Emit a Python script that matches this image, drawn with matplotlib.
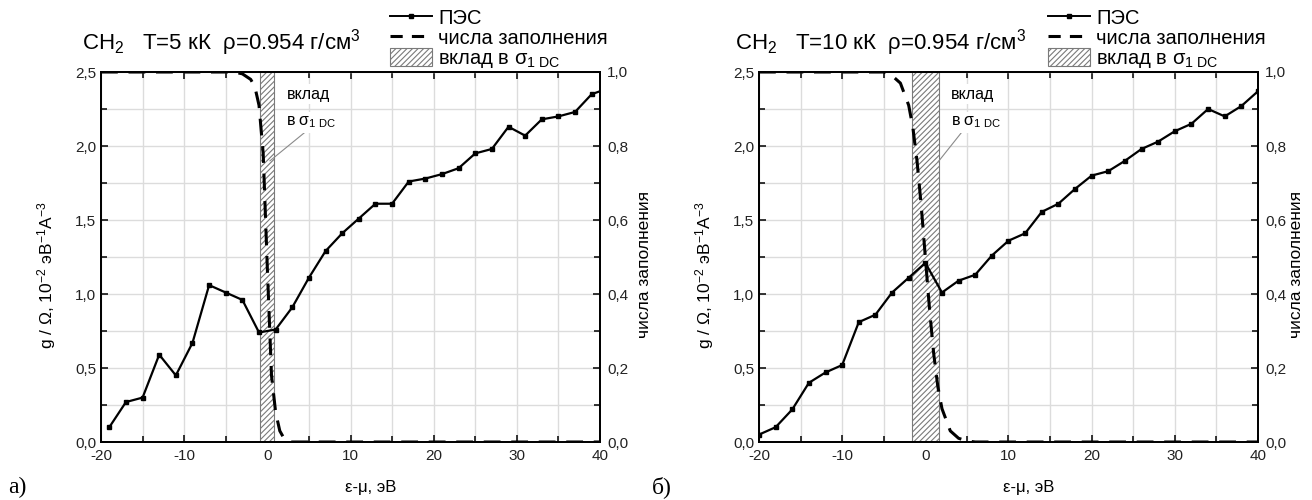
import numpy as np
import matplotlib.pyplot as plt
from matplotlib.ticker import MultipleLocator, FuncFormatter
from matplotlib.patches import Patch
from matplotlib.lines import Line2D

plt.rcParams['font.family'] = ['Liberation Sans', 'DejaVu Sans']
plt.rcParams['mathtext.fontset'] = 'custom'
plt.rcParams['mathtext.rm'] = 'Liberation Sans'
plt.rcParams['mathtext.it'] = 'Liberation Sans:italic'
plt.rcParams['mathtext.bf'] = 'Liberation Sans:bold'
plt.rcParams['axes.unicode_minus'] = False
plt.rcParams['hatch.color'] = '#7a7a7a'
plt.rcParams['hatch.linewidth'] = 0.8

# T = 5 kK : DOS (ПЭС)
x5 = [-19, -17, -15, -13, -11, -9, -7, -5, -3, -1, 1, 3, 5, 7, 9, 11,
      13, 15, 17, 19, 21, 23, 25, 27, 29, 31, 33, 35, 37, 39, 41]
g5 = [0.10, 0.27, 0.30, 0.59, 0.45, 0.67, 1.06, 1.01, 0.96, 0.74, 0.76,
      0.91, 1.11, 1.29, 1.41, 1.51, 1.61, 1.61, 1.76, 1.78, 1.81, 1.85,
      1.95, 1.98, 2.13, 2.07, 2.18, 2.20, 2.23, 2.35, 2.39]
# T = 5 kK : occupation numbers
e5 = [-20, -4.0, -3.0, -2.0, -1.5, -1.0, -0.5, 0.0, 0.5, 1.0, 1.5, 2.0, 2.7, 40]
f5 = [1.0, 1.0, 0.995, 0.98, 0.96, 0.91, 0.78, 0.47, 0.18, 0.08, 0.03, 0.01, 0.0, 0.0]
band5 = (-0.85, 0.8)

# T = 10 kK : DOS
x10 = [-20, -18, -16, -14, -12, -10, -8, -6, -4, -2, 0, 2, 4, 6, 8, 10,
       12, 14, 16, 18, 20, 22, 24, 26, 28, 30, 32, 34, 36, 38, 40]
g10 = [0.05, 0.10, 0.22, 0.40, 0.47, 0.52, 0.81, 0.86, 1.01, 1.11, 1.21,
       1.01, 1.09, 1.13, 1.26, 1.36, 1.41, 1.555, 1.61, 1.71, 1.80, 1.83,
       1.90, 1.98, 2.03, 2.10, 2.15, 2.25, 2.20, 2.27, 2.37]
# T = 10 kK : occupation numbers
e10 = [-20, -5.0, -4.0, -3.0, -2.0, -1.5, -1.0, -0.5, 0.0, 0.5, 1.0, 1.5, 2.0, 3.0, 4.0, 5.0, 6.0, 40]
f10 = [1.0, 1.0, 0.99, 0.97, 0.91, 0.85, 0.76, 0.64, 0.5, 0.36, 0.24, 0.15, 0.09, 0.03, 0.01, 0.003, 0.0, 0.0]
band10 = (-1.6, 1.6)

titles = [r'CH$_2$   T=5 кК  ρ=0.954 г/см$^3$', r'CH$_2$   T=10 кК  ρ=0.954 г/см$^3$']
panel = ['а)', 'б)']
sig = r'σ$_{\mathrm{1\ DC}}$'
ylab_left = r'g / $\Omega$, 10$^{-2}$ эВ$^{-1}$А$^{-3}$'
ylab_right = 'числа заполнения'
xlab = 'ε-μ, эВ'

W, H = 1312, 500
fig = plt.figure(figsize=(W / 100, H / 100), dpi=100)

comma = FuncFormatter(lambda v, p: ('%.1f' % v).replace('.', ','))
integer = FuncFormatter(lambda v, p: '%d' % round(v))

data = [(x5, g5, e5, f5, band5, (2.3, 4.9, 2.11, 0.32, 1.90)),
        (x10, g10, e10, f10, band10, (3.1, 4.9, 2.13, 1.5, 1.89))]
lefts = [101, 759]
tx = [82, 735]
lab_x = [8, 652]
rlab = [1.075, 1.062]

for i, (x, g, e, f, band, ann) in enumerate(data):
    ax = fig.add_axes([lefts[i] / W, (H - 442) / H, 499 / W, 370 / H])
    ax2 = ax.twinx()

    ax.axvspan(band[0], band[1], facecolor='white', edgecolor='#7a7a7a',
               hatch='//////', lw=0.8, zorder=1)
    ax.plot(x, g, '-', color='black', lw=1.6, marker='s', ms=2.8, zorder=3)
    ax2.plot(e, f, color='black', lw=2.2, dashes=(5.5, 3.5), zorder=3)

    ax.set_xlim(-20, 40)
    ax.set_ylim(0, 2.5)
    ax2.set_ylim(0, 1.0)
    ax.xaxis.set_major_locator(MultipleLocator(10))
    ax.xaxis.set_minor_locator(MultipleLocator(5))
    ax.yaxis.set_major_locator(MultipleLocator(0.5))
    ax.yaxis.set_minor_locator(MultipleLocator(0.25))
    ax2.yaxis.set_major_locator(MultipleLocator(0.2))
    ax2.yaxis.set_minor_locator(MultipleLocator(0.1))
    ax.xaxis.set_major_formatter(integer)
    ax.yaxis.set_major_formatter(comma)
    ax2.yaxis.set_major_formatter(comma)

    ax.grid(True, which='both', color='#dcdcdc', lw=1.0, zorder=0)
    ax.set_axisbelow(True)

    ax.tick_params(which='both', direction='in', top=True, right=False,
                   labelsize=11, labelcolor='#222222', width=1.1)
    ax.tick_params(axis='x', pad=5)
    ax.tick_params(which='major', length=5)
    ax.tick_params(which='minor', length=4)
    ax2.tick_params(which='both', direction='in', labelsize=11,
                    labelcolor='#222222', width=1.1, pad=5)
    ax2.tick_params(which='major', length=5)
    ax2.tick_params(which='minor', length=4)
    for a in (ax, ax2):
        for s in a.spines.values():
            s.set_linewidth(1.3)

    ax.set_ylabel(ylab_left, fontsize=12.5)
    ax.yaxis.set_label_coords(-0.086, 0.45)
    ax2.set_ylabel(ylab_right, fontsize=12.5)
    ax2.yaxis.set_label_coords(rlab[i], 0.48)

    # annotation
    bb = dict(facecolor='white', edgecolor='none', pad=2)
    ax2.text(ann[0], 2.35, 'вклад', transform=ax.transData, fontsize=11.5,
             va='center', ha='left', bbox=bb, zorder=5)
    ax2.text(ann[0], 2.16, 'в ' + sig, transform=ax.transData, fontsize=11.5,
             va='center', ha='left', bbox=bb, zorder=5)
    ax2.plot([ann[1], ann[3]], [ann[2] / 2.5, ann[4] / 2.5], color='#8a8a8a', lw=0.8)

    # title and legend
    fig.text(tx[i] / W, 1 - 43 / H, titles[i], fontsize=16, va='center', ha='left')
    handles = [Line2D([], [], color='black', lw=1.4, marker='s', ms=2.3),
               Line2D([], [], color='black', lw=2.2, dashes=(4, 3)),
               Patch(facecolor='white', edgecolor='#7a7a7a', hatch='//////', lw=0.8)]
    labels = ['ПЭС', 'числа заполнения', 'вклад в ' + sig]
    fig.legend(handles, labels, loc='upper left',
               bbox_to_anchor=((lefts[i] + 289) / W, 1 - 8 / H),
               frameon=False, fontsize=14.5, handlelength=2.1, handleheight=1.0,
               handletextpad=0.3, labelspacing=0.0, borderpad=0, borderaxespad=0)

    fig.text(ax.get_position().x0 + 0.54 * ax.get_position().width, 0.025, xlab,
             fontsize=12, ha='center', va='center')
    fig.text(lab_x[i] / W, 0.025, panel[i], fontsize=17, family='Liberation Serif',
             ha='left', va='center')

fig.savefig('out.png', dpi=100)
